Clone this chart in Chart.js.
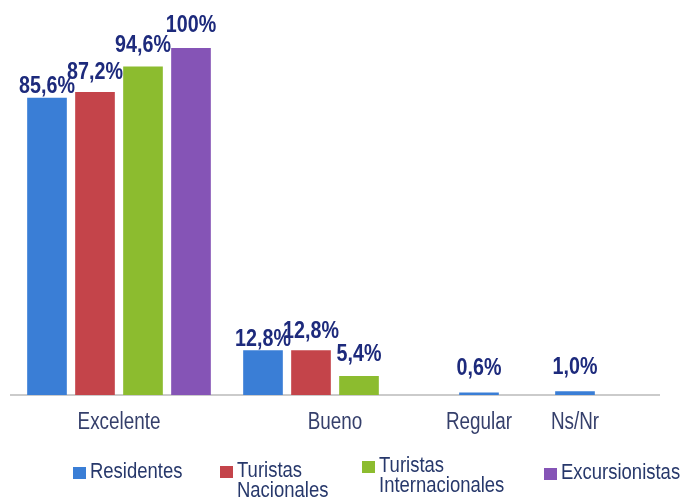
<!DOCTYPE html>
<html>
<head>
<meta charset="utf-8">
<script src="https://cdn.jsdelivr.net/npm/chart.js@4.4.1/dist/chart.umd.min.js"></script>
<style>
  body { margin: 0; background: #fff; }
  #wrap { position: relative; width: 687px; height: 499px; overflow: hidden; }
  .legend-item {
    position: absolute;
    display: flex;
    align-items: flex-start;
    font: 22px/20px 'Liberation Sans', sans-serif;
    color: #27386b;
    white-space: pre;
  }
  .legend-box { width: 13px; height: 12px; margin: 6px 4px 0 0; flex: none; }
  .legend-text { display: inline-block; transform: scaleX(0.84); transform-origin: 0 0; }
</style>
</head>
<body>
<div id="wrap">
  <canvas id="chart" width="687" height="499"></canvas>
  <div id="legend"></div>
</div>
<script>
const categories = ['Excelente', 'Bueno', 'Regular', 'Ns/Nr'];
const seriesNames = ['Residentes', 'Turistas\nNacionales', 'Turistas\nInternacionales', 'Excursionistas'];
const residentes = [85.6, 12.8, 0.6, 1.0];
const turistasNacionales = [87.2, 12.8, null, null];
const turistasInternacionales = [94.6, 5.4, null, null];
const excursionistas = [100, null, null, null];

// look & layout
const FONT = "'Liberation Sans', sans-serif";
const NARROW = 0.82; // the original uses a condensed face, squeeze the text
const seriesColors = ['#3a7ed6', '#c4444a', '#8cbc2f', '#8554b6'];
const labelGaps = [5, 13, 15, 16];
const slotCount = 27;
const groupStart = [1, 10, 19, 23];
const labelSlot = [4, 13, 19, 23];
const legendPos = [[73, 461], [220, 460], [362, 455], [544, 462]];

const series = [residentes, turistasNacionales, turistasInternacionales, excursionistas];

const slotLabels = Array(slotCount).fill('');
categories.forEach((name, i) => { slotLabels[labelSlot[i]] = name; });

const datasets = series.map((values, s) => ({
  label: seriesNames[s],
  data: Array(slotCount).fill(null),
  backgroundColor: seriesColors[s],
  barThickness: 39,
  grouped: false,
}));

// bars of one category sit next to each other, skipping empty series
categories.forEach((name, ci) => {
  let k = 0;
  series.forEach((values, s) => {
    if (values[ci] == null) return;
    datasets[s].data[groupStart[ci] + 2 * k] = values[ci];
    k++;
  });
});

function formatPct(v) {
  const txt = v >= 100 ? v.toFixed(0) : v.toFixed(1).replace('.', ',');
  return txt + '%';
}

function narrowText(ctx, text, x, y) {
  ctx.save();
  ctx.translate(x, y);
  ctx.scale(NARROW, 1);
  ctx.fillText(text, 0, 0);
  ctx.restore();
}

const narrowLabels = {
  id: 'narrowLabels',
  afterDatasetsDraw(chart) {
    const ctx = chart.ctx;
    ctx.save();
    ctx.textAlign = 'center';
    ctx.textBaseline = 'alphabetic';

    // values above the bars
    ctx.font = 'bold 24px ' + FONT;
    ctx.fillStyle = '#1d2a7c';
    chart.data.datasets.forEach((ds, i) => {
      chart.getDatasetMeta(i).data.forEach((bar, j) => {
        const v = ds.data[j];
        if (v == null) return;
        const gap = v < 2 ? 18 : labelGaps[i];
        narrowText(ctx, formatPct(v), bar.x, bar.y - gap);
      });
    });

    // category names under the axis
    const xs = chart.scales.x;
    ctx.font = '23px ' + FONT;
    ctx.fillStyle = '#353f6b';
    xs.ticks.forEach((t, i) => {
      const lbl = xs.getLabelForValue(t.value);
      if (lbl) narrowText(ctx, lbl, xs.getPixelForTick(i), xs.top + 34);
    });
    ctx.restore();
  },
};

const chart = new Chart(document.getElementById('chart'), {
  type: 'bar',
  data: { labels: slotLabels, datasets },
  options: {
    responsive: false,
    animation: false,
    layout: { padding: { left: 11, right: 28, top: 48, bottom: 104 } },
    plugins: { legend: { display: false }, tooltip: { enabled: false } },
    scales: {
      x: {
        grid: { display: false, drawTicks: false },
        border: { color: '#cbcbcb', width: 2 },
        ticks: { display: false, autoSkip: false },
      },
      y: { display: false, min: 0, max: 100 },
    },
  },
  plugins: [narrowLabels],
});

const legend = document.getElementById('legend');
seriesNames.forEach((name, i) => {
  const item = document.createElement('div');
  item.className = 'legend-item';
  item.style.left = legendPos[i][0] + 'px';
  item.style.top = legendPos[i][1] + 'px';
  const box = document.createElement('span');
  box.className = 'legend-box';
  box.style.background = seriesColors[i];
  const text = document.createElement('span');
  text.className = 'legend-text';
  text.textContent = name;
  item.append(box, text);
  legend.appendChild(item);
});
</script>
</body>
</html>
